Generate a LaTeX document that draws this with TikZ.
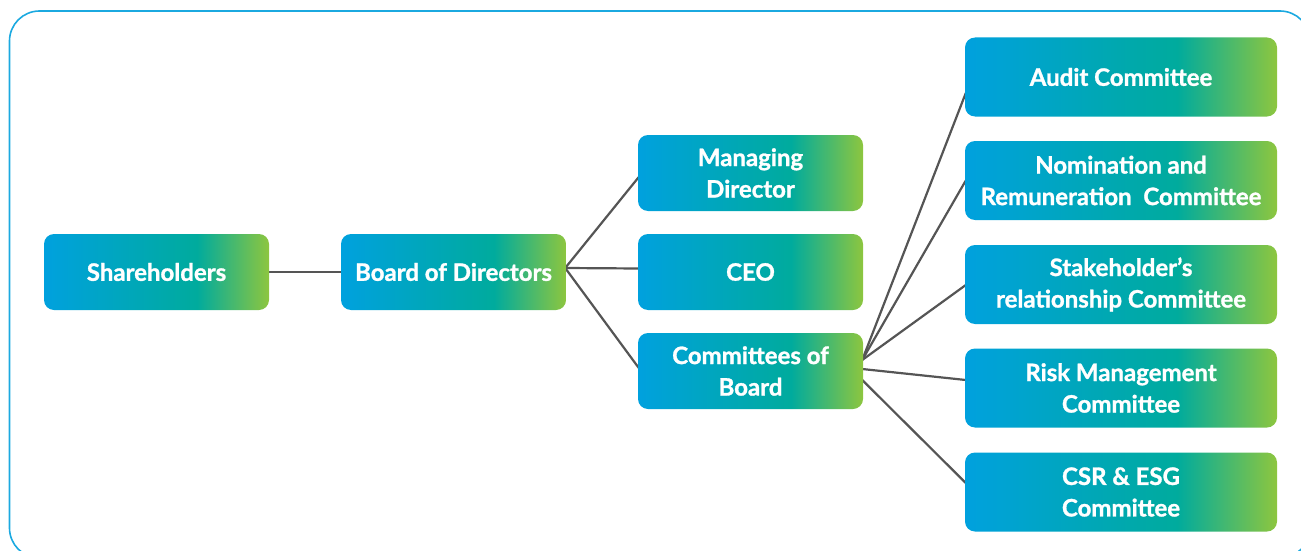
\documentclass[tikz,border=0pt]{standalone}
\usepackage{fontspec}
\setmainfont{Lato}[BoldFeatures={FakeBold=1.2}]
\usetikzlibrary{calc,backgrounds}
\definecolor{cblue}{RGB}{0,161,222}
\definecolor{cteal}{RGB}{0,171,157}
\definecolor{cgreen}{RGB}{141,198,63}
\definecolor{cline}{RGB}{85,85,85}
\definecolor{cframe}{RGB}{27,169,224}
\pgfdeclarehorizontalshading{boxgrad}{100bp}{color(0bp)=(cblue); color(25bp)=(cblue); color(59bp)=(cteal); color(75bp)=(cgreen); color(100bp)=(cgreen)}
\tikzset{
  orgbox/.style={rounded corners=10pt, shading=boxgrad, text=white, align=center,
    font=\fontsize{24}{31.5}\selectfont\bfseries, inner sep=0pt,
    minimum width=225pt, minimum height=76pt},
  combox/.style={orgbox, minimum width=312pt, minimum height=79pt},
  link/.style={draw=cline, line width=2.2pt}
}
\begin{document}
\begin{tikzpicture}[x=1pt,y=-1pt]
\useasboundingbox (0,0) rectangle (1301,551);
\draw[cframe, line width=1.6pt, rounded corners=30pt] (9.5,11) rectangle (1310,558);
\node[orgbox] (sh) at (156.5,272) {Shareholders};
\node[orgbox] (bod) at (453.5,272) {Board of Directors};
\node[orgbox] (md) at (750.5,173) {Managing\\Director};
\node[orgbox] (ceo) at (750.5,272) {CEO};
\node[orgbox] (cob) at (750.5,371) {Committees of\\Board};
\node[combox] (audit) at (1121,77) {Audit Committee};
\node[combox] (nom) at (1121,180.5) {Nomination and\\Remuneration~ Committee};
\node[combox] (stake) at (1121,284.5) {Stakeholder’s\\relationship Committee};
\node[combox] (risk) at (1121,388) {Risk Management\\Committee};
\node[combox] (csr) at (1121,492) {CSR \& ESG\\Committee};
\coordinate (bodout) at ($(bod.east)+(-1,-4)$);
\coordinate (cobup) at ($(cob.east)+(-1,-11)$);
\coordinate (cobmid) at ($(cob.east)+(-1,-2)$);
\coordinate (coblow) at ($(cob.east)+(-1,9)$);
\begin{pgfonlayer}{background}
\draw[link] (sh.east) -- (bod.west);
\draw[link] (bodout) -- ($(md.west)+(1,4)$);
\draw[link] (bodout) -- ($(ceo.west)+(1,-3.5)$);
\draw[link] (bodout) -- ($(cob.west)+(1,-3)$);
\draw[link] (cobup) -- ($(audit.west)+(1,16)$);
\draw[link] (cobup) -- ($(nom.west)+(1,0)$);
\draw[link] (cobup) -- ($(stake.west)+(1,0.5)$);
\draw[link] (cobmid) -- ($(risk.west)+(1,-8)$);
\draw[link] (coblow) -- ($(csr.west)+(1,-9)$);
\end{pgfonlayer}
\end{tikzpicture}
\end{document}
